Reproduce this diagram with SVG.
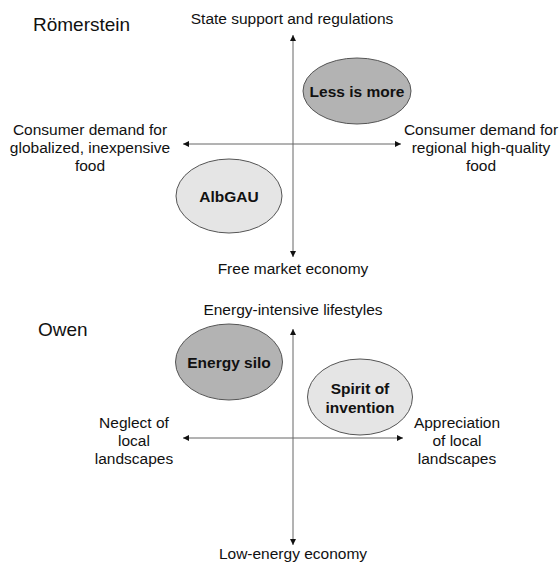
<svg xmlns="http://www.w3.org/2000/svg" width="560" height="563" viewBox="0 0 560 563">
<style>
text{font-family:"Liberation Sans",Arial,sans-serif;fill:#111;}
.title{font-size:19px;}
.lbl{font-size:15.5px;text-anchor:middle;}
.nl{font-size:15.5px;font-weight:bold;text-anchor:middle;}
.axis{stroke:#666;stroke-width:1;fill:none;marker-start:url(#ah);marker-end:url(#ah);}
.dark{fill:#b3b3b3;stroke:#555;stroke-width:1;}
.light{fill:#e5e5e5;stroke:#555;stroke-width:1;}
</style>
<defs>
<marker id="ah" viewBox="0 0 10 10" refX="10" refY="5" markerWidth="6" markerHeight="6" markerUnits="userSpaceOnUse" orient="auto-start-reverse">
<path d="M0,0 L10,5 L0,10 Z" fill="#111"/>
</marker>
</defs>
<rect width="560" height="563" fill="#fff"/>
<g id="connectors">
<line class="axis" x1="293" y1="257" x2="293" y2="35"/>
<line class="axis" x1="183" y1="144" x2="401" y2="144"/>
<line class="axis" x1="293" y1="545" x2="293" y2="329"/>
<line class="axis" x1="183" y1="438" x2="403" y2="438"/>
</g>
<g id="title-romerstein"><text class="title" x="33" y="31">Römerstein</text></g>
<g id="label-state"><text class="lbl" x="292" y="24">State support and regulations</text></g>
<g id="label-free"><text class="lbl" x="293" y="274">Free market economy</text></g>
<g id="label-global"><text class="lbl" x="90" y="135">Consumer demand for</text><text class="lbl" x="90" y="153">globalized, inexpensive</text><text class="lbl" x="90" y="171">food</text></g>
<g id="label-regional"><text class="lbl" x="481" y="135">Consumer demand for</text><text class="lbl" x="481" y="153">regional high-quality</text><text class="lbl" x="481" y="171">food</text></g>
<g id="node-less"><ellipse class="dark" cx="357" cy="91" rx="54" ry="33"/><text class="nl" x="357" y="96.5">Less is more</text></g>
<g id="node-albgau"><ellipse class="light" cx="229" cy="196" rx="53" ry="37"/><text class="nl" x="229" y="201.5">AlbGAU</text></g>
<g id="title-owen"><text class="title" x="38" y="336">Owen</text></g>
<g id="label-energy"><text class="lbl" x="293" y="315">Energy-intensive lifestyles</text></g>
<g id="label-low"><text class="lbl" x="293" y="559">Low-energy economy</text></g>
<g id="label-neglect"><text class="lbl" x="134" y="428">Neglect of</text><text class="lbl" x="134" y="446">local</text><text class="lbl" x="134" y="464">landscapes</text></g>
<g id="label-appreciation"><text class="lbl" x="457" y="428">Appreciation</text><text class="lbl" x="457" y="446">of local</text><text class="lbl" x="457" y="464">landscapes</text></g>
<g id="node-silo"><ellipse class="dark" cx="229" cy="362" rx="53.5" ry="38"/><text class="nl" x="229" y="368">Energy silo</text></g>
<g id="node-spirit"><ellipse class="light" cx="360" cy="397" rx="52.5" ry="38"/><text class="nl" x="360" y="394">Spirit of</text><text class="nl" x="360" y="413">invention</text></g>
</svg>
